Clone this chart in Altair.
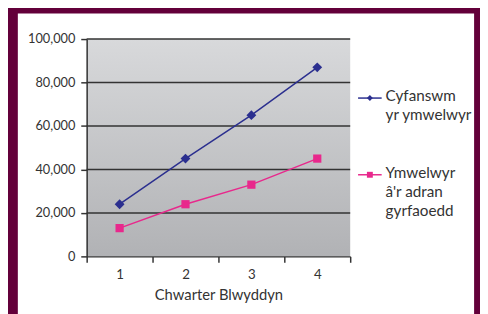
import altair as alt
import pandas as pd

quarters = ["1", "2", "3", "4"]
series_names = ["Cyfanswm\nyr ymwelwyr", "Ymwelwyr\nâ'r adran\ngyrfaoedd"]
total_visitors = [24000, 45000, 65000, 87000]
careers_visitors = [13000, 24000, 33000, 45000]
y_ticks = [0, 20000, 40000, 60000, 80000, 100000]
colors = ["#2b2f8f", "#e8288c"]
shapes = ["diamond", "square"]
marker_sizes = [100, 70]

rows = []
for name, vals in zip(series_names, [total_visitors, careers_visitors]):
    for q, v in zip(quarters, vals):
        rows.append({"quarter": q, "value": v, "series": name})
df = pd.DataFrame(rows)

FONT = "Lato"
W, H = 268, 221

xenc = alt.X("quarter:O", sort=quarters,
             scale=alt.Scale(type="band", paddingInner=0, paddingOuter=0),
             axis=alt.Axis(title="Chwarter Blwyddyn", tickBand="extent", labelAngle=0,
                           tickSize=6, tickWidth=1.5, tickColor="#333333",
                           domainColor="#333333", domainWidth=1.5,
                           labelFontSize=13.5, labelColor="#333333", labelPadding=6,
                           titleFontSize=15, titleColor="#333333", titleFontWeight="normal",
                           titlePadding=6, grid=False, zindex=1))
yscale = alt.Scale(domain=[0, 100000])
yenc = alt.Y("value:Q", scale=yscale,
             axis=alt.Axis(title=None, values=y_ticks, format=",d", grid=False,
                           tickSize=6, tickWidth=1.5, tickColor="#333333",
                           domainColor="#333333", domainWidth=1.5,
                           labelFontSize=13, labelColor="#333333", labelPadding=6,
                           zindex=1))

one = alt.Data(values=[{}])

panel = alt.Chart(one).mark_rect(fill="white").encode(
    x=alt.value(-70), x2=alt.value(394), y=alt.value(-26), y2=alt.value(290))

grad = alt.Gradient(gradient="linear", x1=0, x2=0, y1=0, y2=1,
                    stops=[alt.GradientStop(color="#d8d9db", offset=0),
                           alt.GradientStop(color="#b1b2b5", offset=1)])
bg = alt.Chart(one).mark_rect(fill=grad).encode(
    x=alt.value(0), x2=alt.value(W), y=alt.value(0), y2=alt.value(H))

grid = alt.Chart(pd.DataFrame({"value": y_ticks[1:]})).mark_rule(
    color="#333333", strokeWidth=1.5).encode(y=yenc)

color_scale = alt.Scale(domain=series_names, range=colors)
shape_scale = alt.Scale(domain=series_names, range=shapes)
size_scale = alt.Scale(domain=series_names, range=marker_sizes)

lines = alt.Chart(df).mark_line(strokeWidth=1.5).encode(
    x=xenc, y=yenc, color=alt.Color("series:N", scale=color_scale, legend=None))
points = alt.Chart(df).mark_point(filled=True, opacity=1).encode(
    x=xenc, y=yenc,
    color=alt.Color("series:N", scale=color_scale, legend=None),
    shape=alt.Shape("series:N", scale=shape_scale, legend=None),
    size=alt.Size("series:N", scale=size_scale, legend=None))

legend_layers = []
legend_y = [60, 138]
for name, col, shp, ly in zip(series_names, colors, shapes, legend_y):
    d = alt.Data(values=[{"label": name}])
    legend_layers.append(alt.Chart(d).mark_rule(color=col, strokeWidth=1.5).encode(
        x=alt.value(276), x2=alt.value(300), y=alt.value(ly)))
    legend_layers.append(alt.Chart(d).mark_point(color=col, filled=True, opacity=1,
                                                   shape=shp, size=36).encode(
        x=alt.value(288), y=alt.value(ly)))
    legend_layers.append(alt.Chart(d).mark_text(align="left", baseline="top", lineBreak="\n",
                                                  font=FONT, fontSize=15.5, lineHeight=19.5,
                                                  color="#333333").encode(
        x=alt.value(304), y=alt.value(ly - 9), text="label:N"))

chart = alt.layer(panel, bg, grid, lines, points, *legend_layers).properties(
    width=W, height=H,
    autosize=alt.AutoSizeParams(type="none"),
    padding={"left": 80, "top": 29, "right": 132, "bottom": 56},
    background="#63003a",
).configure(font=FONT).configure_view(stroke=None)

chart.save("out.html", embed_options={"renderer": "svg", "actions": False})
